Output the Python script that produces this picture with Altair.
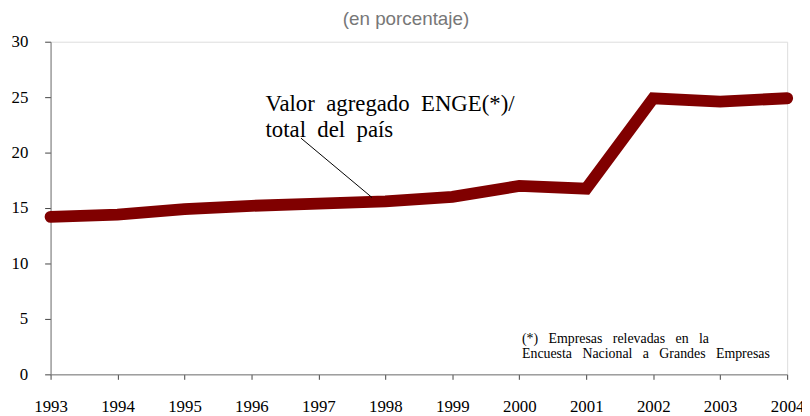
import altair as alt
import pandas as pd

years = [1993, 1994, 1995, 1996, 1997, 1998, 1999, 2000, 2001, 2002, 2003, 2004]
share = [14.2, 14.4, 14.9, 15.2, 15.4, 15.6, 16.0, 17.0, 16.75, 24.9, 24.6, 24.9]

subtitle = "(en porcentaje)"
label_lines = ["Valor agregado ENGE(*)/", "total del país"]
label_x = [1996.21, 1996.21]
label_y = [23.72, 21.45]
leader = {"x": 1996.74, "y": 21.3, "x2": 1997.8, "y2": 15.95}
note_lines = ["(*) Empresas relevadas en la", "Encuesta Nacional a Grandes Empresas"]
note_x = [2000.04, 2000.04]
note_y = [2.8, 1.52]

WIDE = " \u00a0"   # wide word spacing as in the original typesetting
NOTE_WIDE = " \u00a0\u00a0"

df = pd.DataFrame({"year": years, "share": share})
lab = pd.DataFrame({"x": label_x, "y": label_y,
                    "t": [s.replace(" ", WIDE) for s in label_lines]})
note = pd.DataFrame({"x": note_x, "y": note_y,
                     "t": [s.replace(" ", NOTE_WIDE) for s in note_lines]})
lead = pd.DataFrame([leader])

serif = "Liberation Serif"

xs = alt.Scale(domain=[1993, 2004], nice=False, zero=False)
ys = alt.Scale(domain=[0, 30], nice=False)

line = alt.Chart(df).mark_line(
    color="#800000", strokeWidth=12, strokeCap="round", strokeJoin="miter"
).encode(
    x=alt.X("year:Q", scale=xs, axis=alt.Axis(
        values=years, format="d", title=None, grid=False,
        labelFont=serif, labelFontSize=17, labelColor="#000",
        tickSize=5, tickColor="#444", domainColor="#777", labelPadding=20,
        labelFlush=False)),
    y=alt.Y("share:Q", scale=ys, axis=alt.Axis(
        values=[0, 5, 10, 15, 20, 25, 30], title=None, grid=False,
        labelFont=serif, labelFontSize=17, labelColor="#000",
        tickSize=6, tickColor="#444", domainColor="#777", labelPadding=17)),
)

rule = alt.Chart(lead).mark_rule(color="#000", strokeWidth=1).encode(
    x=alt.X("x:Q", scale=xs), y=alt.Y("y:Q", scale=ys),
    x2="x2:Q", y2="y2:Q")

labels = alt.Chart(lab).mark_text(
    font=serif, fontSize=23, align="left", baseline="alphabetic", color="#000"
).encode(x=alt.X("x:Q", scale=xs), y=alt.Y("y:Q", scale=ys), text="t:N")

notes = alt.Chart(note).mark_text(
    font=serif, fontSize=14, align="left", baseline="alphabetic", color="#000"
).encode(x=alt.X("x:Q", scale=xs), y=alt.Y("y:Q", scale=ys), text="t:N")

chart = alt.layer(line, rule, labels, notes).properties(
    width=744, height=336,
    title=alt.TitleParams(subtitle, font="Liberation Sans Narrow, Liberation Sans",
                          fontSize=19, fontWeight="normal", color="#777",
                          offset=4, dx=-13, anchor="middle"),
    autosize=alt.AutoSizeParams(type="none"),
    padding={"left": 43, "top": 32, "right": 15, "bottom": 40},
).configure_view(stroke="#222", strokeWidth=1).configure(background="white")

chart.save("out.html", embed_options={"renderer": "svg", "actions": False})
